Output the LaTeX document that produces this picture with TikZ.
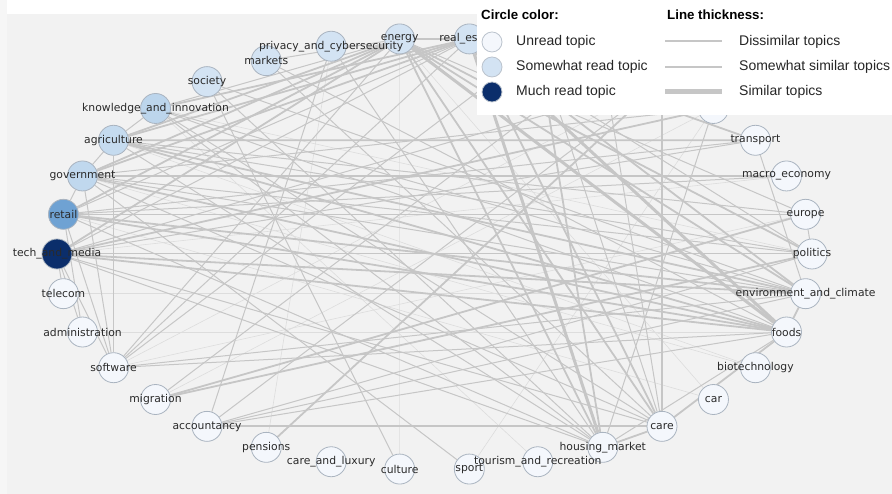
\documentclass[tikz,border=0pt]{standalone}
\usepackage{fontspec}
\setmainfont{Liberation Sans}
\newfontfamily\nodefont{DejaVu Sans}
\definecolor{outerbg}{HTML}{F6F6F6}
\definecolor{panelbg}{HTML}{F2F2F2}
\definecolor{edgegray}{HTML}{C6C6C6}
\definecolor{faintgray}{HTML}{DDDDDD}
\definecolor{nodeedge}{HTML}{AAB4C0}
\definecolor{unreadfill}{HTML}{F4F7FC}
\definecolor{somefill}{HTML}{D3E3F3}
\definecolor{knowfill}{HTML}{BCD5EC}
\definecolor{agrifill}{HTML}{C5DBEF}
\definecolor{govfill}{HTML}{C0D8EE}
\definecolor{retailfill}{HTML}{6FA2D3}
\definecolor{muchfill}{HTML}{0B2E6B}
\definecolor{labelgray}{HTML}{2A2A2A}
\pgfdeclarelayer{bg}
\pgfdeclarelayer{edges}
\pgfdeclarelayer{top}
\pgfsetlayers{bg,edges,main,top}
\begin{document}
\begin{tikzpicture}[x=1pt,y=1pt,
  topic/.style={circle, minimum size=30pt, inner sep=0pt, draw=nodeedge, line width=0.8pt},
  unread/.style={topic, fill=unreadfill},
  some/.style={topic, fill=somefill},
  know/.style={topic, fill=knowfill},
  agri/.style={topic, fill=agrifill},
  gov/.style={topic, fill=govfill},
  retailc/.style={topic, fill=retailfill},
  much/.style={topic, fill=muchfill},
  lbl/.style={font=\nodefont\fontsize{10.8}{12}\selectfont, text=labelgray, inner sep=0pt},
  faint/.style={draw=faintgray, line width=0.6pt},
  weak/.style={draw=edgegray, line width=1pt},
  mid/.style={draw=edgegray, line width=1.8pt},
  strong/.style={draw=edgegray, line width=3pt},
  legtitle/.style={font=\bfseries\fontsize{13.3}{15}\selectfont, text=black, inner sep=0pt},
  legtext/.style={font=\fontsize{14}{16}\selectfont, text=black!85, inner sep=0pt},
  legcirc/.style={circle, minimum size=20pt, inner sep=0pt, draw=nodeedge!80, line width=0.8pt}
]
\useasboundingbox (0,0) rectangle (892,494);

% page background, white header strip and grey canvas
\begin{pgfonlayer}{bg}
\fill[outerbg] (0,0) rectangle (892,494);
\fill[white] (7,480) rectangle (892,494);
\fill[panelbg] (7,0) rectangle (892,480);
\end{pgfonlayer}

% topics on an elliptic ring, 34 positions
\foreach \n/\k/\s in {politics/0/unread, europe/1/unread, macro/2/unread, transport/3/unread,
  hA/4/unread, hB/5/unread, hC/6/some, hD/7/some, realestate/8/some, energy/9/some,
  privacy/10/some, markets/11/some, society/12/some, knowledge/13/know, agriculture/14/agri,
  government/15/gov, retail/16/retailc, tech/17/much, telecom/18/unread, admin/19/unread,
  software/20/unread, migration/21/unread, accountancy/22/unread, pensions/23/unread,
  careluxury/24/unread, culture/25/unread, sport/26/unread, tourism/27/unread,
  housing/28/unread, care/29/unread, car/30/unread, biotech/31/unread, foods/32/unread,
  env/33/unread}
  \node[\s] (\n) at ({434.5+377.5*cos(\k*360/34)},{240+216*sin(\k*360/34)}) {};

% topic names on top of all circles
\foreach \n/\t in {politics/politics, europe/europe, macro/macro\_economy, transport/transport,
  realestate/real\_estate, energy/energy, privacy/privacy\_and\_cybersecurity, markets/markets,
  society/society, knowledge/knowledge\_and\_innovation, agriculture/agriculture,
  government/government, retail/retail, tech/tech\_and\_media, telecom/telecom,
  admin/administration, software/software, migration/migration, accountancy/accountancy,
  pensions/pensions, careluxury/care\_and\_luxury, culture/culture, sport/sport,
  tourism/tourism\_and\_recreation, housing/housing\_market, care/care, car/car,
  biotech/biotechnology, foods/foods, env/environment\_and\_climate}
  \node[lbl] (\n-t) at (\n) {\t};

% similarity links
\begin{pgfonlayer}{edges}
\foreach \a/\b in {hA/migration, hB/software, tourism/knowledge, culture/energy, car/energy,
  biotech/agriculture, sport/hA, pensions/privacy, macro/tech, politics/knowledge,
  software/europe, admin/foods, telecom/env, biotech/government, car/retail}
  \draw[faint] (\a) -- (\b);
\foreach \a/\b in {hD/care, realestate/politics, energy/europe, energy/knowledge,
  realestate/retail, realestate/tech, energy/software, realestate/software,
  privacy/accountancy, accountancy/politics, accountancy/env, accountancy/foods,
  software/foods, software/env, software/hD, software/retail, software/government,
  admin/retail, software/tech, agriculture/software, sport/government, culture/society,
  tech/politics, tech/care, tech/housing, tech/transport, retail/macro, retail/housing,
  government/env, government/care, agriculture/europe, agriculture/politics,
  agriculture/housing, knowledge/env, knowledge/foods, knowledge/care, knowledge/housing,
  society/housing, markets/care, privacy/housing, transport/env, europe/politics,
  housing/foods, hA/housing, hC/care, hC/migration, hB/accountancy, retail/transport,
  telecom/tech, admin/tech, government/retail, agriculture/government,
  knowledge/agriculture, energy/markets, hB/tech, hA/government, europe/retail,
  politics/government, env/society, foods/markets}
  \draw[weak] (\a) -- (\b);
\foreach \a/\b in {energy/realestate, energy/housing, hD/housing, energy/care,
  realestate/care, hB/care, energy/env, realestate/env, energy/politics,
  energy/agriculture, energy/government, energy/retail, energy/tech,
  realestate/agriculture, realestate/government, realestate/knowledge,
  agriculture/transport, government/macro, accountancy/care, migration/europe,
  migration/politics, pensions/hB, tech/foods, tech/env, retail/foods, retail/env,
  government/foods, agriculture/env, agriculture/foods, foods/env, care/foods,
  housing/care, hA/tech, transport/realestate}
  \draw[mid] (\a) -- (\b);
\foreach \a/\b in {realestate/housing, energy/foods, realestate/foods}
  \draw[strong] (\a) -- (\b);
\end{pgfonlayer}

% legend panel
\begin{pgfonlayer}{top}
\fill[white] (477,379) rectangle (892,494);
\node[legtitle, anchor=west] (lt1) at (481,479) {Circle color:};
\node[legtitle, anchor=west] (lt2) at (667,479) {Line thickness:};
\node[legcirc, fill=unreadfill] (lc1) at (492,452) {};
\node[legcirc, fill=somefill] (lc2) at (492,427) {};
\node[legcirc, fill=muchfill] (lc3) at (492,402) {};
\node[legtext, anchor=west] (lx1) at (516,452) {Unread topic};
\node[legtext, anchor=west] (lx2) at (516,427) {Somewhat read topic};
\node[legtext, anchor=west] (lx3) at (516,402) {Much read topic};
\coordinate (la1) at (665,453); \coordinate (lb1) at (722,453);
\coordinate (la2) at (665,427); \coordinate (lb2) at (722,427);
\coordinate (la3) at (665,402); \coordinate (lb3) at (722,402);
\draw[draw=edgegray, line width=1.5pt] (la1) -- (lb1);
\draw[draw=edgegray, line width=2.5pt] (la2) -- (lb2);
\draw[draw=edgegray, line width=5pt] (la3) -- (lb3);
\node[legtext, anchor=west] (ly1) at (739,452) {Dissimilar topics};
\node[legtext, anchor=west] (ly2) at (739,427) {Somewhat similar topics};
\node[legtext, anchor=west] (ly3) at (739,402) {Similar topics};
\end{pgfonlayer}
\end{tikzpicture}
\end{document}
